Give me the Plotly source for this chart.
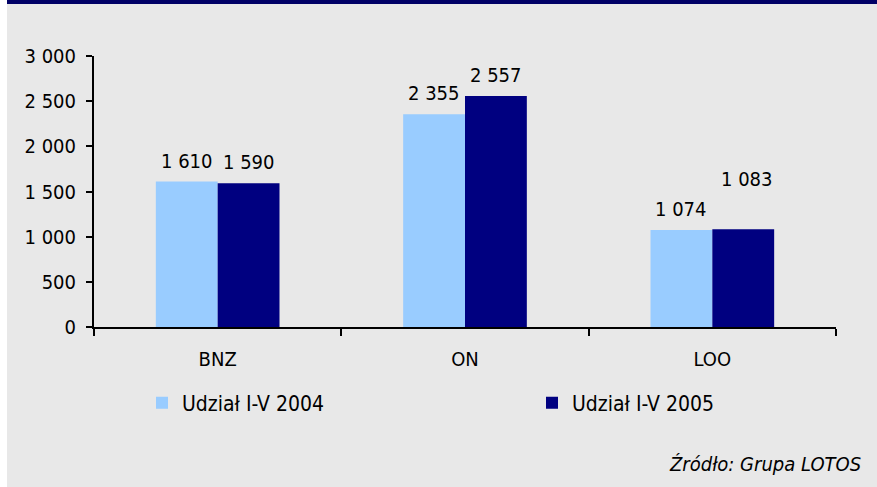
import plotly.graph_objects as go

categories = ["BNZ", "ON", "LOO"]
series_names = ["Udział I-V 2004", "Udział I-V 2005"]
values_2004 = [1610, 2355, 1074]
values_2005 = [1590, 2557, 1083]
y_ticks = [0, 500, 1000, 1500, 2000, 2500, 3000]
source_text = "Źródło: Grupa LOTOS"

FONT = "DejaVu Sans Condensed, DejaVu Sans, sans-serif"
BG = "#e8e8e8"
W, H = 877, 487
L, R, T, B = 94, 41, 56, 160
PW, PH = W - L - R, H - T - B


def px_x(p):
    return (p - L) / PW


def px_y(p):
    return (H - B - p) / PH


def fmt(v):
    return f"{v:,}".replace(",", " ")


fig = go.Figure()
fig.add_trace(go.Bar(x=categories, y=values_2004, name=series_names[0],
                     marker=dict(color="#99ccff", line=dict(width=0)),
                     legend="legend"))
fig.add_trace(go.Bar(x=categories, y=values_2005, name=series_names[1],
                     marker=dict(color="#000080", line=dict(width=0)),
                     legend="legend2"))

# value labels
for i, c in enumerate(categories):
    fig.add_annotation(x=c, y=values_2004[i], text=fmt(values_2004[i]),
                       xshift=-31, yshift=21, yanchor="middle", showarrow=False,
                       font=dict(size=20, color="black", family=FONT))
    extra_y = 29 if i == 2 else 0
    extra_x = 4 if i == 2 else 0
    fig.add_annotation(x=c, y=values_2005[i], text=fmt(values_2005[i]),
                       xshift=31 + extra_x, yshift=21 + extra_y, yanchor="middle",
                       showarrow=False,
                       font=dict(size=20, color="black", family=FONT))

fig.add_annotation(xref="paper", yref="paper", x=px_x(863), y=px_y(464),
                   xanchor="right", yanchor="middle", showarrow=False,
                   text="<i>" + source_text + "</i>",
                   font=dict(size=20, color="black", family=FONT))

# grey panel and top navy band
fig.add_shape(type="rect", xref="paper", yref="paper",
              x0=px_x(7), x1=px_x(W + 5), y0=px_y(-5), y1=px_y(H + 5),
              fillcolor=BG, line=dict(width=0), layer="below")
fig.add_shape(type="rect", xref="paper", yref="paper",
              x0=px_x(7), x1=px_x(W + 5), y0=px_y(-5), y1=px_y(4),
              fillcolor="#000066", line=dict(width=0), layer="above")

legend_common = dict(orientation="h", xanchor="left", yanchor="middle",
                     font=dict(size=21, family=FONT), bgcolor="rgba(0,0,0,0)")

fig.update_layout(
    width=W, height=H,
    margin=dict(l=L, r=R, t=T, b=B),
    paper_bgcolor="white", plot_bgcolor="rgba(0,0,0,0)",
    font=dict(family=FONT, size=20, color="black"),
    separators=", ",
    barmode="group", bargap=0.5, bargroupgap=0,
    showlegend=True,
    legend=dict(x=px_x(142), y=px_y(403), **legend_common),
    legend2=dict(x=px_x(532), y=px_y(403), **legend_common),
    xaxis=dict(showline=True, linecolor="black", linewidth=2,
               ticks="outside", tickson="boundaries", ticklen=7, tickcolor="black",
               tickwidth=2, tickfont=dict(size=20), showgrid=False,
               ticklabelstandoff=13),
    yaxis=dict(range=[0, 3000], tickvals=y_ticks, tickformat=",d",
               showline=True, linecolor="black", linewidth=2,
               ticks="outside", ticklen=6, tickcolor="black", tickwidth=2,
               showgrid=False, zeroline=False, tickfont=dict(size=20),
               ticklabelstandoff=6),
)

fig.write_html("out.html", config={"displayModeBar": False},
               post_script="document.body.style.margin='0';document.body.style.overflow='hidden';")
